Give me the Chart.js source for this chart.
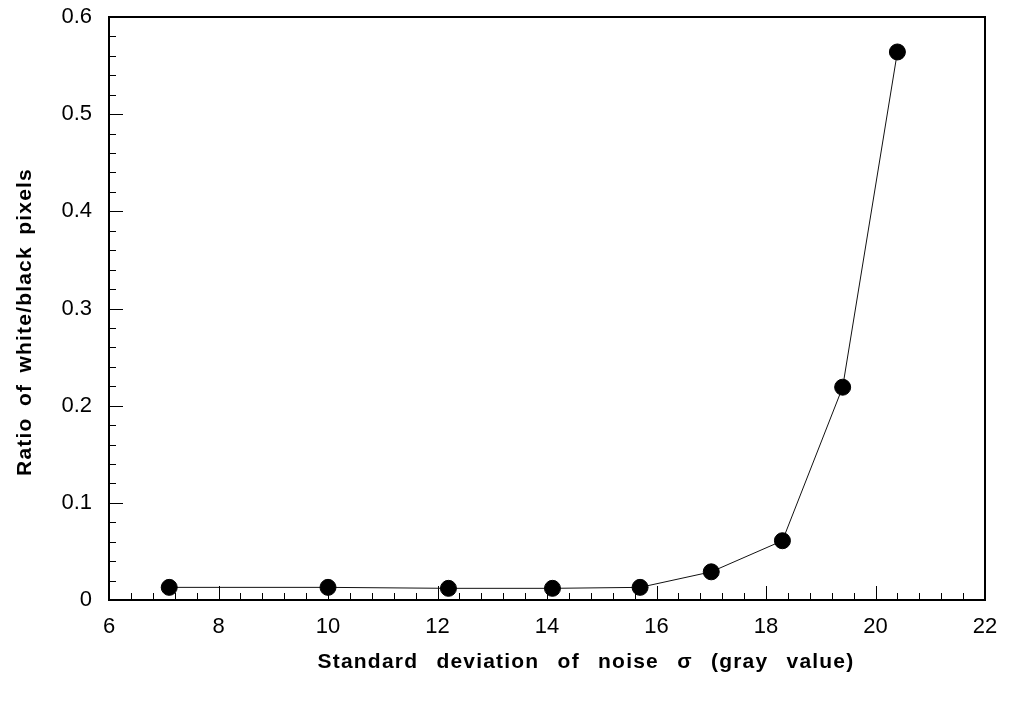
<!DOCTYPE html>
<html>
<head>
<meta charset="utf-8">
<script src="https://cdn.jsdelivr.net/npm/chart.js@4.4.0/dist/chart.umd.min.js"></script>
<style>
html,body{margin:0;padding:0;background:#fff;}
#wrap{width:1009px;height:704px;position:relative;}
</style>
</head>
<body>
<div id="wrap"><canvas id="c" width="1009" height="704"></canvas></div>
<script>
const sigma = [7.1, 10, 12.2, 14.1, 15.7, 17, 18.3, 19.4, 20.4];
const ratio = [0.013, 0.013, 0.012, 0.012, 0.013, 0.029, 0.061, 0.219, 0.564];
const xTicks = [6, 8, 10, 12, 14, 16, 18, 20, 22];
const yTicks = [0, 0.1, 0.2, 0.3, 0.4, 0.5, 0.6];
const xTitle = "Standard deviation of noise \u03C3 (gray value)";
const yTitle = "Ratio of white/black pixels";

const FONT = "'Liberation Sans', Arial, Helvetica, sans-serif";

function drawSpacedTitle(ctx, text, targetWidth) {
  const ls = 1.2;
  try { ctx.wordSpacing = '0px'; ctx.letterSpacing = ls + 'px'; } catch (e) {}
  const w = ctx.measureText(text).width;
  const spaces = (text.match(/ /g) || []).length;
  const extra = Math.max(0, (targetWidth - w) / spaces);
  try { ctx.wordSpacing = extra.toFixed(1) + 'px'; } catch (e) {}
  ctx.fillText(text, 0, 0);
}

const framePlugin = {
  id: 'frame',
  afterDraw(chart) {
    const ctx = chart.ctx;
    const a = chart.chartArea;
    const xs = chart.scales.x, ys = chart.scales.y;
    ctx.save();
    ctx.strokeStyle = '#000';
    ctx.lineWidth = 2;
    ctx.strokeRect(a.left, a.top, a.right - a.left, a.bottom - a.top);
    ctx.lineWidth = 1;
    for (let i = 0; i <= 40; i++) {
      const v = xTicks[0] + i * 0.4;
      const px = Math.round(xs.getPixelForValue(v)) + 0.5;
      const len = (i % 5 === 0) ? 14 : 7;
      ctx.beginPath();
      ctx.moveTo(px, a.bottom);
      ctx.lineTo(px, a.bottom - len);
      ctx.stroke();
    }
    for (let i = 0; i <= 30; i++) {
      const v = i * 0.02;
      const py = Math.round(ys.getPixelForValue(v)) + 0.5;
      const len = (i % 5 === 0) ? 14 : 7;
      ctx.beginPath();
      ctx.moveTo(a.left, py);
      ctx.lineTo(a.left + len, py);
      ctx.stroke();
    }
    ctx.fillStyle = '#000';
    ctx.font = "bold 21px " + FONT;
    ctx.textAlign = 'center';
    ctx.textBaseline = 'middle';
    ctx.save();
    ctx.translate(586, 662);
    drawSpacedTitle(ctx, xTitle, 537);
    ctx.restore();
    ctx.save();
    ctx.translate(25, 322);
    ctx.rotate(-Math.PI / 2);
    drawSpacedTitle(ctx, yTitle, 308);
    ctx.restore();
    ctx.restore();
  }
};

new Chart(document.getElementById('c'), {
  type: 'scatter',
  data: {
    datasets: [{
      data: sigma.map((s, i) => ({ x: s, y: ratio[i] })),
      showLine: true,
      borderColor: '#111',
      borderWidth: 1,
      backgroundColor: '#000',
      pointBackgroundColor: '#000',
      pointBorderColor: '#000',
      pointRadius: 8,
      pointHoverRadius: 8,
      tension: 0
    }]
  },
  options: {
    responsive: false,
    animation: false,
    events: [],
    layout: { padding: { left: 0, top: 17, right: 24, bottom: 0 } },
    plugins: { legend: { display: false }, tooltip: { enabled: false } },
    scales: {
      x: {
        type: 'linear',
        min: 6, max: 22,
        afterBuildTicks: s => { s.ticks = xTicks.map(v => ({ value: v })); },
        afterFit: s => { s.height = 104; s.paddingLeft = 0; s.paddingRight = 0; },
        grid: { display: false, drawTicks: false },
        border: { display: false },
        ticks: { color: '#000', font: { family: FONT, size: 22 }, padding: 14, maxRotation: 0 }
      },
      y: {
        type: 'linear',
        min: 0, max: 0.6,
        afterBuildTicks: s => { s.ticks = yTicks.map(v => ({ value: v })); },
        afterFit: s => { s.width = 109; s.paddingTop = 0; s.paddingBottom = 0; },
        grid: { display: false, drawTicks: false },
        border: { display: false },
        ticks: { color: '#000', font: { family: FONT, size: 22 }, padding: 17,
          callback: v => String(v) }
      }
    }
  },
  plugins: [framePlugin]
});
</script>
</body>
</html>
